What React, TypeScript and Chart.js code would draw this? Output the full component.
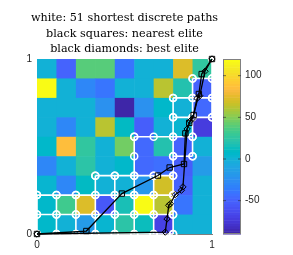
import { useEffect, useRef } from 'react';
import { Chart, registerables } from 'chart.js';

Chart.register(...registerables);

// ---------- data ----------
const titleLines = [
  'white: 51 shortest discrete paths',
  'black squares: nearest elite',
  'black diamonds: best elite',
];
const axisTicks = [0, 1];
const colorbarTicks = [-50, 0, 50, 100];
const colorMin = -90;
const colorMax = 120;
const gridSize = 9;

// cell values, rows listed from top (y = 1) to bottom (y = 0)
const heatRow1 = [0, -50, 41, 40, -38, 0, 0, 72, 27];
const heatRow2 = [120, 0, -30, -38, 0, 0, 61, 20, -50];
const heatRow3 = [0, 0, 0, -22, -90, -22, 8, 0, -45];
const heatRow4 = [0, -28, 0, 62, 10, -52, 0, 4, -72];
const heatRow5 = [6, 86, 27, 0, 45, -45, 20, -50, 0];
const heatRow6 = [-28, 0, 24, 0, 6, -45, -42, -52, -15];
const heatRow7 = [5, -28, 10, 0, 0, -18, 70, -50, 0];
const heatRow8 = [6, 33, 74, -55, 18, 118, 62, -38, 0];
const heatRow9 = [6, 0, -15, 2, 22, 12, -68, 0, 0];
const heatRows = [heatRow1, heatRow2, heatRow3, heatRow4, heatRow5, heatRow6, heatRow7, heatRow8, heatRow9];

// white lattice network: horizontal runs [row j, from i, to i], vertical runs [col i, from j, to j]
const latticeRows = [
  [0, 0, 7], [1, 0, 7], [2, 0, 7], [3, 3, 7], [4, 7, 8],
  [5, 5, 8], [6, 7, 9], [7, 7, 9], [8, 8, 9],
];
const latticeCols = [
  [0, 0, 2], [1, 0, 2], [2, 0, 2], [3, 0, 3], [4, 0, 3],
  [5, 0, 5], [6, 0, 3], [7, 0, 7], [8, 4, 8], [9, 6, 9],
];

// nearest elite (squares)
const squaresX = [0, 0.282, 0.485, 0.691, 0.758, 0.84, 0.848, 0.87, 0.895, 0.925, 0.941, 1];
const squaresY = [0, 0.017, 0.231, 0.334, 0.38, 0.4, 0.575, 0.635, 0.68, 0.8, 0.914, 1];
// best elite (diamonds)
const diamondsX = [0, 0.733, 0.743, 0.753, 0.762, 0.79, 0.825, 0.834, 0.858, 0.875, 0.89, 0.915, 0.93, 0.96, 1];
const diamondsY = [0, 0.011, 0.086, 0.164, 0.173, 0.225, 0.25, 0.269, 0.6, 0.645, 0.66, 0.775, 0.79, 0.93, 1];

// ---------- colormap (parula) ----------
const parula: number[][] = [
  [0.2422, 0.1504, 0.6603], [0.2504, 0.165, 0.7076], [0.2578, 0.1818, 0.7511], [0.2647, 0.1978, 0.7952],
  [0.2706, 0.2147, 0.8364], [0.2751, 0.2342, 0.871], [0.2783, 0.2559, 0.8991], [0.2803, 0.2782, 0.9221],
  [0.2813, 0.3006, 0.9414], [0.281, 0.3228, 0.9579], [0.2795, 0.3447, 0.9717], [0.276, 0.3667, 0.9829],
  [0.2699, 0.3892, 0.9906], [0.2602, 0.4123, 0.9952], [0.244, 0.4358, 0.9988], [0.2206, 0.4603, 0.9973],
  [0.1963, 0.4847, 0.9892], [0.1834, 0.5074, 0.9798], [0.1786, 0.5289, 0.9682], [0.1764, 0.5499, 0.952],
  [0.1687, 0.5703, 0.9359], [0.154, 0.5902, 0.9218], [0.146, 0.6091, 0.9079], [0.138, 0.6276, 0.8973],
  [0.1248, 0.6459, 0.8883], [0.1113, 0.6635, 0.8763], [0.0952, 0.6798, 0.8598], [0.0689, 0.6948, 0.8394],
  [0.0297, 0.7082, 0.8163], [0.0036, 0.7203, 0.7917], [0.0067, 0.7312, 0.766], [0.0433, 0.7411, 0.7394],
  [0.0964, 0.75, 0.712], [0.1408, 0.7584, 0.6842], [0.1717, 0.767, 0.6554], [0.1938, 0.7758, 0.6251],
  [0.2161, 0.7843, 0.5923], [0.247, 0.7918, 0.5567], [0.2906, 0.7973, 0.5188], [0.3406, 0.8008, 0.4789],
  [0.3909, 0.8029, 0.4354], [0.4456, 0.8024, 0.3909], [0.5044, 0.7993, 0.348], [0.5616, 0.7942, 0.3045],
  [0.6174, 0.7876, 0.2612], [0.672, 0.7793, 0.2227], [0.7242, 0.7698, 0.191], [0.7738, 0.7598, 0.1646],
  [0.8203, 0.7498, 0.1535], [0.8634, 0.7406, 0.1596], [0.9035, 0.733, 0.1774], [0.9393, 0.7288, 0.21],
  [0.9728, 0.7298, 0.2394], [0.9956, 0.7434, 0.2371], [0.997, 0.7659, 0.2199], [0.9952, 0.7893, 0.2028],
  [0.9892, 0.8136, 0.1885], [0.9786, 0.8386, 0.1766], [0.9676, 0.8639, 0.1643], [0.961, 0.889, 0.1537],
  [0.9597, 0.9135, 0.1423], [0.9628, 0.9373, 0.1265], [0.9691, 0.9606, 0.1064], [0.9769, 0.9839, 0.0805],
];
const rgb = (c: number[]) => `rgb(${Math.round(c[0] * 255)},${Math.round(c[1] * 255)},${Math.round(c[2] * 255)})`;
const colorFor = (v: number) => {
  const t = (v - colorMin) / (colorMax - colorMin);
  const k = Math.min(parula.length - 1, Math.max(0, Math.floor(t * parula.length)));
  return rgb(parula[k]);
};

const tickFont = { family: "'Liberation Sans', Arial, sans-serif", size: 10 };
const tickColor = '#262626';
const CB_LEFT = 223;
const CB_WIDTH = 18;

// centre the (full-width) title over the axes, like the reference figure
const titleCentrePlugin = {
  id: 'titleCentre',
  afterLayout(chart: any) {
    const t = chart.titleBlock;
    if (!t) return;
    const ca = chart.chartArea;
    t.left = 0;
    t.right = ca.left + ca.right;
  },
};

const heatmapPlugin = {
  id: 'heatmap',
  beforeDatasetsDraw(chart: any) {
    const { ctx, chartArea } = chart;
    const xs = chart.scales.x;
    const ys = chart.scales.y;
    ctx.save();
    ctx.beginPath();
    ctx.rect(chartArea.left, chartArea.top, chartArea.right - chartArea.left, chartArea.bottom - chartArea.top);
    ctx.clip();
    heatRows.forEach((row, r) => {
      row.forEach((v, c) => {
        const x0 = xs.getPixelForValue(c / gridSize);
        const x1 = xs.getPixelForValue((c + 1) / gridSize);
        const y0 = ys.getPixelForValue(1 - r / gridSize);
        const y1 = ys.getPixelForValue(1 - (r + 1) / gridSize);
        ctx.fillStyle = colorFor(v);
        ctx.fillRect(x0, y0, x1 - x0 + 0.6, y1 - y0 + 0.6);
      });
    });
    ctx.restore();
  },
};

const colorbarPlugin = {
  id: 'colorbar',
  afterDatasetsDraw(chart: any) {
    const { ctx } = chart;
    const cb = chart.scales.cb;
    const top = cb.getPixelForValue(colorMax);
    const bottom = cb.getPixelForValue(colorMin);
    const n = parula.length;
    ctx.save();
    for (let k = 0; k < n; k++) {
      const yA = bottom - (k / n) * (bottom - top);
      const yB = bottom - ((k + 1) / n) * (bottom - top);
      ctx.fillStyle = rgb(parula[k]);
      ctx.fillRect(CB_LEFT, yB, CB_WIDTH, yA - yB + 0.5);
    }
    ctx.strokeStyle = '#808080';
    ctx.lineWidth = 1;
    ctx.strokeRect(CB_LEFT + 0.5, Math.round(top) + 0.5, CB_WIDTH - 1, Math.round(bottom - top) - 1);
    ctx.strokeStyle = '#262626';
    ctx.lineWidth = 0.6;
    ctx.beginPath();
    colorbarTicks.forEach((v) => {
      const py = cb.getPixelForValue(v);
      ctx.moveTo(CB_LEFT + CB_WIDTH - 3, py);
      ctx.lineTo(CB_LEFT + CB_WIDTH, py);
      ctx.moveTo(CB_LEFT, py);
      ctx.lineTo(CB_LEFT + 3, py);
    });
    ctx.stroke();
    ctx.restore();
  },
};

function buildDatasets() {
  const ds: any[] = [];
  ds.push({
    label: 'best elite',
    data: diamondsX.map((x, k) => ({ x, y: diamondsY[k] })),
    showLine: true,
    borderColor: '#000',
    borderWidth: 1.3,
    pointStyle: 'rectRot',
    pointRadius: 3.2,
    pointBorderColor: '#000',
    pointBackgroundColor: 'rgba(0,0,0,0)',
    pointBorderWidth: 1,
    clip: false,
  });
  ds.push({
    label: 'nearest elite',
    data: squaresX.map((x, k) => ({ x, y: squaresY[k] })),
    showLine: true,
    borderColor: '#000',
    borderWidth: 1.3,
    pointStyle: 'rect',
    pointRadius: 3.8,
    pointBorderColor: '#000',
    pointBackgroundColor: 'rgba(0,0,0,0)',
    pointBorderWidth: 1,
    clip: false,
  });
  const white = {
    showLine: true,
    borderColor: '#fff',
    borderWidth: 1.6,
    pointStyle: 'circle',
    pointRadius: 3.5,
    pointBorderColor: '#fff',
    pointBackgroundColor: 'rgba(0,0,0,0)',
    pointBorderWidth: 1.5,
    clip: false,
  };
  latticeRows.forEach(([j, a, b]) => {
    const pts = [];
    for (let i = a; i <= b; i++) pts.push({ x: i / gridSize, y: j / gridSize });
    ds.push({ ...white, label: 'row', data: pts });
  });
  latticeCols.forEach(([i, a, b]) => {
    const pts = [];
    for (let j = a; j <= b; j++) pts.push({ x: i / gridSize, y: j / gridSize });
    ds.push({ ...white, label: 'col', data: pts });
  });
  return ds;
}

export default function App() {
  const ref = useRef<HTMLCanvasElement>(null);
  useEffect(() => {
    if (!ref.current) return;
    const chart = new Chart(ref.current, {
      type: 'scatter',
      data: { datasets: buildDatasets() },
      options: {
        responsive: false,
        animation: false,
        devicePixelRatio: 1,
        layout: { padding: 0, autoPadding: false },
        plugins: {
          legend: { display: false },
          tooltip: { enabled: false },
          title: {
            display: true,
            text: titleLines,
            fullSize: true,
            color: '#000',
            font: { family: "'DejaVu Serif', serif", size: 11.2, weight: 'normal', lineHeight: '15.75px' },
            padding: { top: 10.1, bottom: 1.65 },
          },
        },
        scales: {
          x: {
            type: 'linear',
            position: 'bottom',
            min: 0,
            max: 1,
            z: 1,
            afterBuildTicks: (s: any) => { s.ticks = axisTicks.map((value) => ({ value })); },
            afterFit: (s: any) => { s.height = 21; },
            grid: { display: false, drawTicks: false },
            border: { display: true, color: '#262626', width: 0.6 },
            ticks: { padding: 5, font: tickFont, color: tickColor, maxRotation: 0, autoSkip: false },
          },
          y: {
            type: 'linear',
            position: 'left',
            min: 0,
            max: 1,
            z: 1,
            afterBuildTicks: (s: any) => { s.ticks = axisTicks.map((value) => ({ value })); },
            afterFit: (s: any) => { s.width = 37; },
            grid: { display: false, drawTicks: false },
            border: { display: true, color: '#262626', width: 0.6 },
            ticks: { padding: 5, font: tickFont, color: tickColor, autoSkip: false },
          },
          cb: {
            type: 'linear',
            axis: 'y',
            position: 'right',
            min: colorMin,
            max: colorMax,
            afterBuildTicks: (s: any) => { s.ticks = colorbarTicks.map((value) => ({ value })); },
            afterFit: (s: any) => { s.width = 81; },
            grid: { display: false, drawTicks: true, tickLength: 30 },
            border: { display: false },
            ticks: { padding: 3, font: tickFont, color: tickColor, autoSkip: false },
          },
        },
      } as any,
      plugins: [titleCentrePlugin, heatmapPlugin, colorbarPlugin],
    });
    return () => chart.destroy();
  }, []);
  return (
    <div style={{ position: 'fixed', left: 0, top: 0, width: 293, height: 255, background: '#fff' }}>
      <canvas ref={ref} width={293} height={255} style={{ display: 'block', width: 293, height: 255 }} />
    </div>
  );
}
